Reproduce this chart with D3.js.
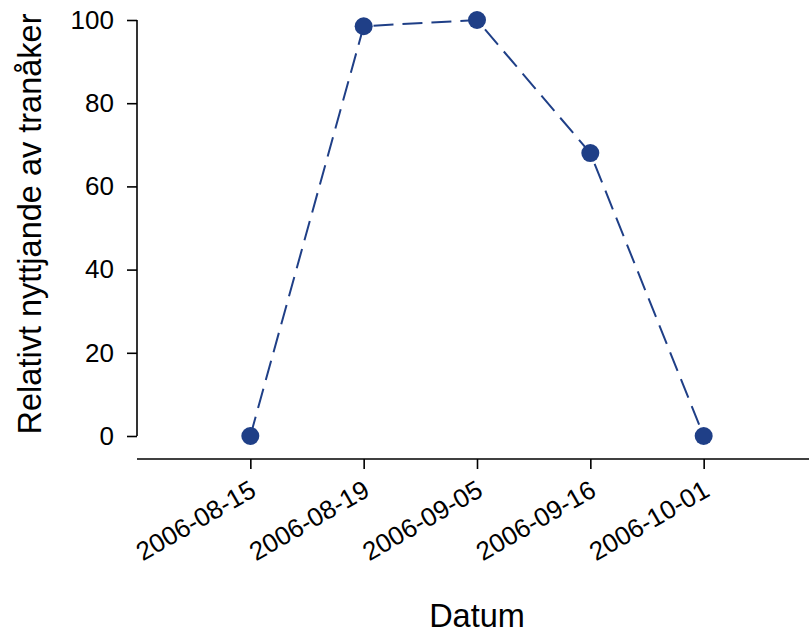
<!DOCTYPE html>
<html>
<head>
<meta charset="utf-8">
<script src="https://cdn.jsdelivr.net/npm/d3@7"></script>
<style>
  body { margin: 0; background: #fff; }
  text { font-family: "Liberation Sans", Arial, sans-serif; fill: #000; }
</style>
</head>
<body>
<svg id="chart" width="809" height="633"></svg>
<script>
// data
const dates = ["2006-08-15", "2006-08-19", "2006-09-05", "2006-09-16", "2006-10-01"];
const values = [0, 98.5, 100, 68, 0];
const yTicks = [0, 20, 40, 60, 80, 100];

const color = "#1f3f87";
const tickFont = 26,
    titleFont = 32.5;

const svg = d3.select("svg#chart");

// point scale: padding 1 leaves one step on each side
const x = d3.scalePoint()
    .domain(dates)
    .range([137, 817])
    .padding(1);

const y = d3.scaleLinear()
    .domain([0, 100])
    .range([436, 20]);

// ===== Y AXIS =====
const yAxis = svg.append("g")
    .attr("transform", "translate(137,0)")
    .call(d3.axisLeft(y).tickValues(yTicks).tickSize(10).tickPadding(13));
yAxis.select(".domain").attr("stroke", "#000").attr("stroke-width", 1.6).attr("d", "M0," + y(0) + "V" + y(100));
yAxis.selectAll(".tick line").attr("stroke", "#000").attr("stroke-width", 1.6);
yAxis.selectAll(".tick text")
    .attr("font-size", tickFont)
    .attr("font-family", "Liberation Sans, Arial, sans-serif")
    .attr("fill", "#000");

// ===== X AXIS =====
const xAxis = svg.append("g")
    .attr("transform", "translate(0,459)")
    .call(d3.axisBottom(x).tickSize(10));
xAxis.select(".domain").attr("stroke", "#000").attr("stroke-width", 1.6).attr("d", "M137,0H809");
xAxis.selectAll(".tick line").attr("stroke", "#000").attr("stroke-width", 1.6);
xAxis.selectAll(".tick text")
    .attr("font-size", tickFont)
    .attr("font-family", "Liberation Sans, Arial, sans-serif")
    .attr("fill", "#000")
    .attr("text-anchor", "end")
    .attr("dy", null)
    .attr("y", 0)
    .attr("transform", "translate(7,36) rotate(-30)");

// ===== AXIS TITLES =====
svg.append("text")
    .attr("x", 477)
    .attr("y", 627)
    .attr("text-anchor", "middle")
    .attr("font-size", titleFont)
    .text("Datum");

svg.append("text")
    .attr("transform", "translate(41,224) rotate(-90)")
    .attr("text-anchor", "middle")
    .attr("font-size", titleFont)
    .text("Relativt nyttjande av tranåker");

// ===== LINE + POINTS =====
const line = d3.line()
    .x((d, i) => x(dates[i]))
    .y(d => y(d));

svg.append("path")
    .datum(values)
    .attr("d", line)
    .attr("fill", "none")
    .attr("stroke", color)
    .attr("stroke-width", 2)
    .attr("stroke-dasharray", "20,9");

svg.selectAll("circle")
    .data(values)
    .join("circle")
    .attr("cx", (d, i) => x(dates[i]))
    .attr("cy", d => y(d))
    .attr("r", 9)
    .attr("fill", color);
</script>
</body>
</html>
